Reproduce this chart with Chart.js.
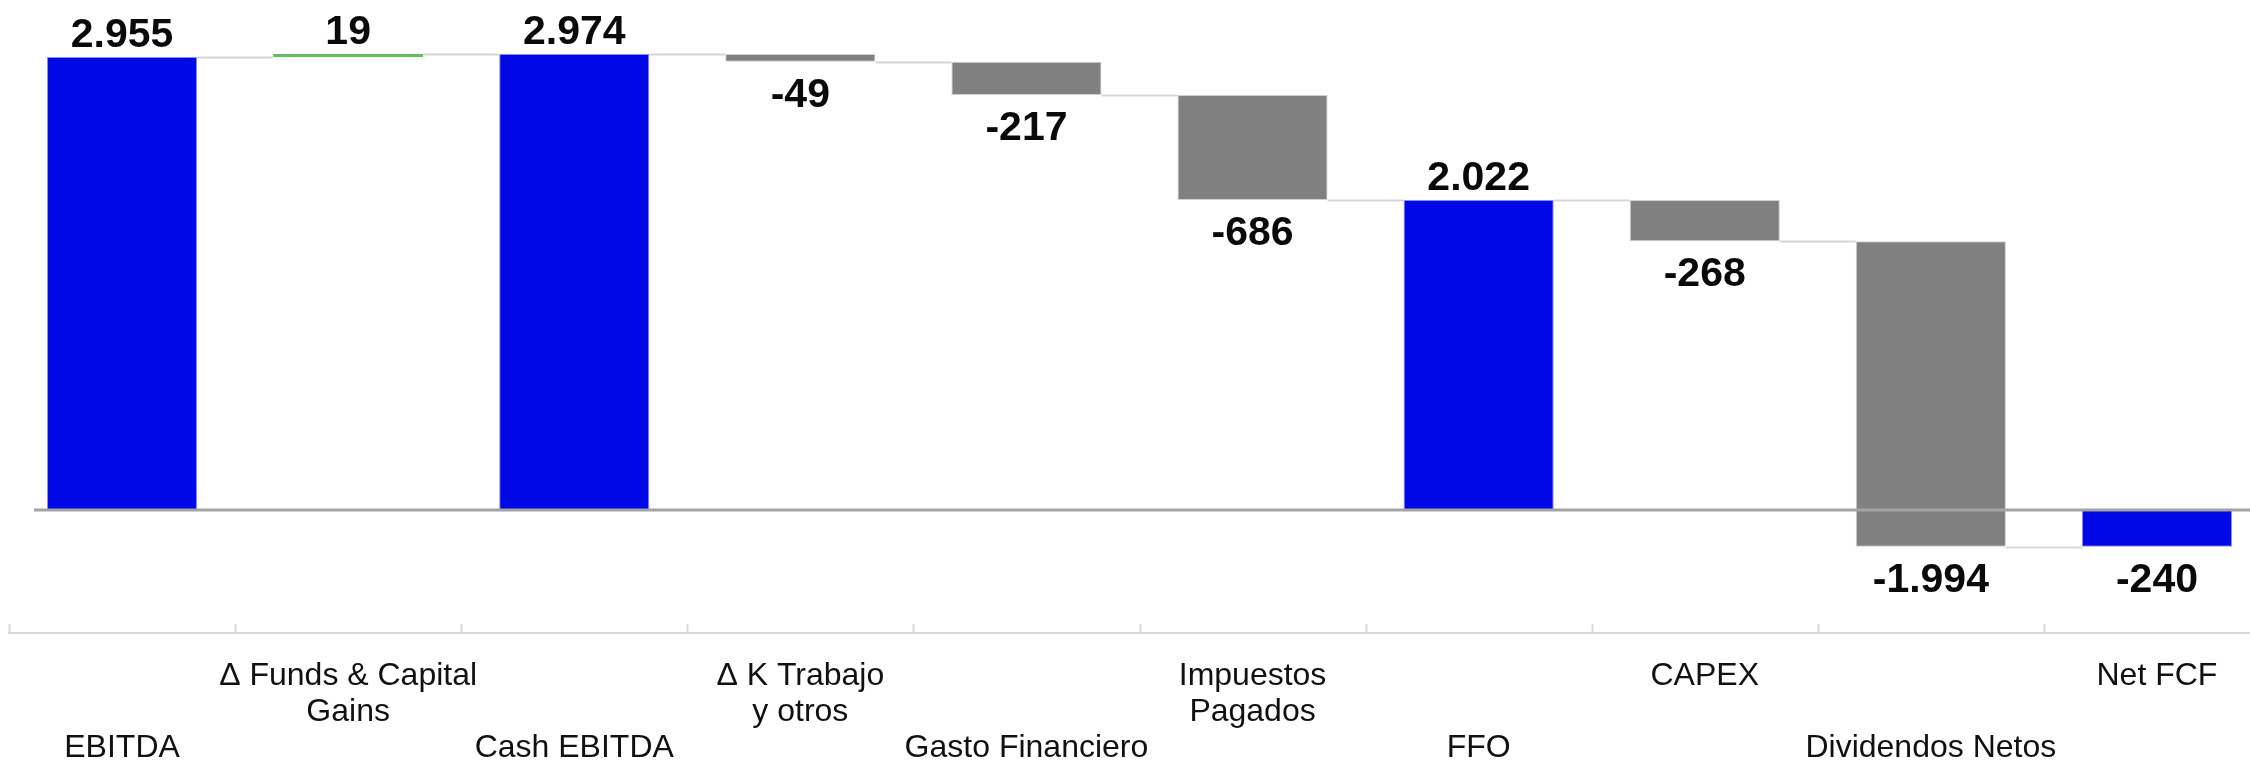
<!DOCTYPE html>
<html>
<head>
<meta charset="utf-8">
<script src="https://cdn.jsdelivr.net/npm/chart.js@4"></script>
<style>
  html, body { margin: 0; padding: 0; background: #fff; overflow: hidden; }
  #wrap { position: absolute; left: 0; top: 0; width: 2270px; height: 761px; }
</style>
</head>
<body>
<div id="wrap"><canvas id="chart"></canvas></div>
<script>
// categories (odd ones sit on the upper label row, even ones on the lower)
const categories = [
  ['', '', 'EBITDA'],
  ['Δ Funds & Capital', 'Gains'],
  ['', '', 'Cash EBITDA'],
  ['Δ K Trabajo', 'y otros'],
  ['', '', 'Gasto Financiero'],
  ['Impuestos', 'Pagados'],
  ['', '', 'FFO'],
  ['CAPEX'],
  ['', '', 'Dividendos Netos'],
  ['Net FCF']
];
const values = [2955, 19, 2974, -49, -217, -686, 2022, -268, -1994, -240];
const isTotal = [true, false, true, false, false, false, true, false, false, true];

const BLUE = '#0008e6';
const GREY = '#808080';
const GREEN = '#5cc05c';

// floating bars: totals start at zero, steps start at the running level
const ranges = [];
let level = 0;
values.forEach((v, i) => {
  if (isTotal[i]) { ranges.push([0, v]); level = v; }
  else { ranges.push([level, level + v]); level += v; }
});

function fmt(v) {
  const s = Math.abs(v).toString().replace(/\B(?=(\d{3})+(?!\d))/g, '.');
  return (v < 0 ? '-' : '') + s;
}

const waterfallExtras = {
  id: 'waterfallExtras',
  afterDatasetsDraw(chart) {
    const ctx = chart.ctx;
    const meta = chart.getDatasetMeta(0);
    const y = chart.scales.y;
    const area = chart.chartArea;
    ctx.save();

    // connectors
    ctx.strokeStyle = '#d6d6d6';
    ctx.lineWidth = 2;
    for (let i = 0; i < meta.data.length - 1; i++) {
      const a = meta.data[i], b = meta.data[i + 1];
      const py = Math.round(y.getPixelForValue(ranges[i][1])) + 0.5;
      ctx.beginPath();
      ctx.moveTo(a.x + a.width / 2, py);
      ctx.lineTo(b.x - b.width / 2, py);
      ctx.stroke();
    }

    // zero line
    const zy = y.getPixelForValue(0);
    ctx.strokeStyle = '#a4a4a4';
    ctx.lineWidth = 3;
    ctx.beginPath();
    ctx.moveTo(area.left + 25, zy);
    ctx.lineTo(area.right, zy);
    ctx.stroke();

    // value labels
    ctx.fillStyle = '#0a0a0a';
    ctx.font = 'bold 41px "Liberation Sans", Arial, sans-serif';
    ctx.textAlign = 'center';
    ctx.textBaseline = 'alphabetic';
    meta.data.forEach((bar, i) => {
      const v = values[i];
      const top = y.getPixelForValue(Math.max(ranges[i][0], ranges[i][1]));
      const bot = y.getPixelForValue(Math.min(ranges[i][0], ranges[i][1]));
      const ty = v >= 0 ? top - 10 : bot + 45;
      ctx.fillText(fmt(v), bar.x, ty);
    });

    // small upward ticks on the category axis
    const w = meta.data.length > 1 ? meta.data[1].x - meta.data[0].x : 0;
    ctx.strokeStyle = '#d9d9d9';
    ctx.lineWidth = 2;
    meta.data.forEach(bar => {
      const tx = Math.round(bar.x - w / 2) + 0.5;
      ctx.beginPath();
      ctx.moveTo(tx, area.bottom);
      ctx.lineTo(tx, area.bottom - 9);
      ctx.stroke();
    });
    ctx.restore();
  }
};

new Chart(document.getElementById('chart'), {
  type: 'bar',
  data: {
    labels: categories,
    datasets: [{
      data: ranges,
      backgroundColor: values.map((v, i) => isTotal[i] ? BLUE : (v >= 0 ? GREEN : GREY)),
      borderColor: values.map((v, i) => isTotal[i] ? '#8a8cff' : (v >= 0 ? GREEN : '#d0d0d0')),
      borderWidth: 1,
      borderSkipped: false,
      barPercentage: 0.664,
      categoryPercentage: 1
    }]
  },
  options: {
    responsive: true,
    maintainAspectRatio: false,
    animation: false,
    layout: { padding: { left: 9, top: 0, right: 0, bottom: 0 } },
    scales: {
      x: {
        grid: { display: false },
        border: { display: true, color: '#d9d9d9', width: 2 },
        ticks: {
          autoSkip: false,
          maxRotation: 0,
          minRotation: 0,
          padding: 17,
          color: '#111',
          font: { family: '"Liberation Sans", Arial, sans-serif', size: 32, lineHeight: 1.13 }
        },
        afterFit(scale) { scale.height = 128; }
      },
      y: {
        display: false,
        min: -802,
        max: 3327
      }
    },
    plugins: {
      legend: { display: false },
      tooltip: { enabled: false }
    }
  },
  plugins: [waterfallExtras]
});
</script>
</body>
</html>
